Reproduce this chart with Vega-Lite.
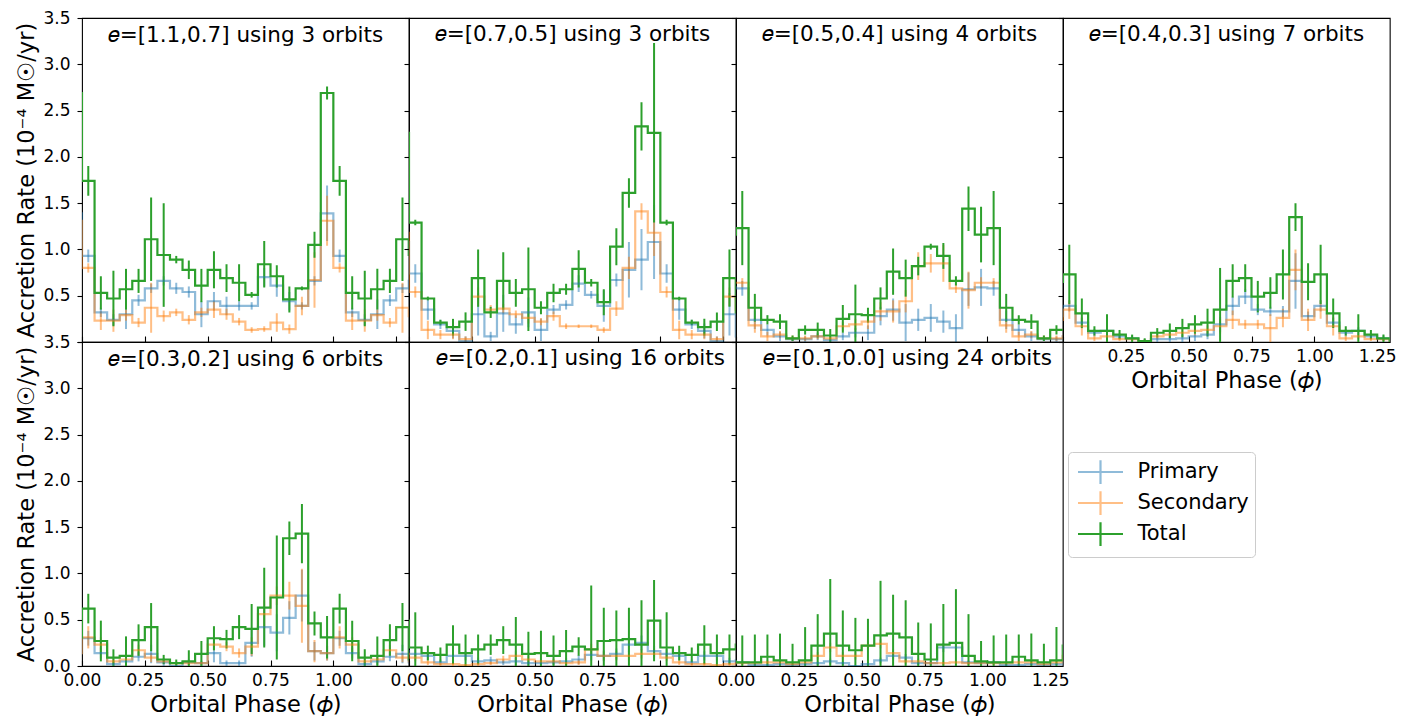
{
"$schema":"https://vega.github.io/schema/vega-lite/v6.json",
"background":"white",
"padding":{"left":15,"top":8,"right":5,"bottom":5},
"data":{"values":[
{"p":1,"s":"Primary","x":-0.025,"y":1.39,"e":0.3},{"p":1,"s":"Primary","x":0.025,"y":0.93,"e":0.07},{"p":1,"s":"Primary","x":0.075,"y":0.32,"e":0.05},{"p":1,"s":"Primary","x":0.125,"y":0.24,"e":0.06},{"p":1,"s":"Primary","x":0.175,"y":0.30,"e":0.16},{"p":1,"s":"Primary","x":0.225,"y":0.45,"e":0.06},{"p":1,"s":"Primary","x":0.275,"y":0.58,"e":0.05},{"p":1,"s":"Primary","x":0.325,"y":0.66,"e":0.05},{"p":1,"s":"Primary","x":0.375,"y":0.58,"e":0.06},{"p":1,"s":"Primary","x":0.425,"y":0.54,"e":0.06},{"p":1,"s":"Primary","x":0.475,"y":0.30,"e":0.14},{"p":1,"s":"Primary","x":0.525,"y":0.44,"e":0.1},{"p":1,"s":"Primary","x":0.575,"y":0.39,"e":0.1},{"p":1,"s":"Primary","x":0.625,"y":0.39,"e":0.05},{"p":1,"s":"Primary","x":0.675,"y":0.39,"e":0.04},{"p":1,"s":"Primary","x":0.725,"y":0.70,"e":0.1},{"p":1,"s":"Primary","x":0.775,"y":0.61,"e":0.12},{"p":1,"s":"Primary","x":0.825,"y":0.44,"e":0.1},{"p":1,"s":"Primary","x":0.875,"y":0.39,"e":0.04},{"p":1,"s":"Primary","x":0.925,"y":0.66,"e":0.05},{"p":1,"s":"Primary","x":0.975,"y":1.39,"e":0.3},{"p":1,"s":"Primary","x":1.025,"y":0.93,"e":0.07},{"p":1,"s":"Primary","x":1.075,"y":0.32,"e":0.05},{"p":1,"s":"Primary","x":1.125,"y":0.24,"e":0.06},{"p":1,"s":"Primary","x":1.175,"y":0.30,"e":0.16},{"p":1,"s":"Primary","x":1.225,"y":0.45,"e":0.06},{"p":1,"s":"Primary","x":1.275,"y":0.58,"e":0.05},{"p":1,"s":"Primary","x":1.325,"y":0.66,"e":0.05},
{"p":1,"s":"Secondary","x":-0.025,"y":1.31,"e":0.27},{"p":1,"s":"Secondary","x":0.025,"y":0.80,"e":0.05},{"p":1,"s":"Secondary","x":0.075,"y":0.23,"e":0.1},{"p":1,"s":"Secondary","x":0.125,"y":0.23,"e":0.12},{"p":1,"s":"Secondary","x":0.175,"y":0.29,"e":0.06},{"p":1,"s":"Secondary","x":0.225,"y":0.21,"e":0.05},{"p":1,"s":"Secondary","x":0.275,"y":0.37,"e":0.27},{"p":1,"s":"Secondary","x":0.325,"y":0.28,"e":0.06},{"p":1,"s":"Secondary","x":0.375,"y":0.32,"e":0.04},{"p":1,"s":"Secondary","x":0.425,"y":0.24,"e":0.05},{"p":1,"s":"Secondary","x":0.475,"y":0.32,"e":0.05},{"p":1,"s":"Secondary","x":0.525,"y":0.35,"e":0.09},{"p":1,"s":"Secondary","x":0.575,"y":0.30,"e":0.06},{"p":1,"s":"Secondary","x":0.625,"y":0.22,"e":0.04},{"p":1,"s":"Secondary","x":0.675,"y":0.13,"e":0.03},{"p":1,"s":"Secondary","x":0.725,"y":0.14,"e":0.03},{"p":1,"s":"Secondary","x":0.775,"y":0.21,"e":0.1},{"p":1,"s":"Secondary","x":0.825,"y":0.14,"e":0.05},{"p":1,"s":"Secondary","x":0.875,"y":0.39,"e":0.1},{"p":1,"s":"Secondary","x":0.925,"y":0.67,"e":0.3},{"p":1,"s":"Secondary","x":0.975,"y":1.31,"e":0.27},{"p":1,"s":"Secondary","x":1.025,"y":0.80,"e":0.05},{"p":1,"s":"Secondary","x":1.075,"y":0.23,"e":0.1},{"p":1,"s":"Secondary","x":1.125,"y":0.23,"e":0.12},{"p":1,"s":"Secondary","x":1.175,"y":0.29,"e":0.06},{"p":1,"s":"Secondary","x":1.225,"y":0.21,"e":0.05},{"p":1,"s":"Secondary","x":1.275,"y":0.37,"e":0.27},{"p":1,"s":"Secondary","x":1.325,"y":0.28,"e":0.06},
{"p":1,"s":"Total","x":-0.025,"y":2.69,"e":0.07},{"p":1,"s":"Total","x":0.025,"y":1.74,"e":0.16},{"p":1,"s":"Total","x":0.075,"y":0.53,"e":0.18},{"p":1,"s":"Total","x":0.125,"y":0.47,"e":0.3},{"p":1,"s":"Total","x":0.175,"y":0.57,"e":0.22},{"p":1,"s":"Total","x":0.225,"y":0.66,"e":0.13},{"p":1,"s":"Total","x":0.275,"y":1.11,"e":0.45},{"p":1,"s":"Total","x":0.325,"y":0.94,"e":0.56},{"p":1,"s":"Total","x":0.375,"y":0.89,"e":0.04},{"p":1,"s":"Total","x":0.425,"y":0.78,"e":0.1},{"p":1,"s":"Total","x":0.475,"y":0.61,"e":0.18},{"p":1,"s":"Total","x":0.525,"y":0.78,"e":0.2},{"p":1,"s":"Total","x":0.575,"y":0.69,"e":0.15},{"p":1,"s":"Total","x":0.625,"y":0.64,"e":0.2},{"p":1,"s":"Total","x":0.675,"y":0.51,"e":0.03},{"p":1,"s":"Total","x":0.725,"y":0.84,"e":0.25},{"p":1,"s":"Total","x":0.775,"y":0.71,"e":0.12},{"p":1,"s":"Total","x":0.825,"y":0.46,"e":0.14},{"p":1,"s":"Total","x":0.875,"y":0.58,"e":0.02},{"p":1,"s":"Total","x":0.925,"y":1.05,"e":0.14},{"p":1,"s":"Total","x":0.975,"y":2.69,"e":0.07},{"p":1,"s":"Total","x":1.025,"y":1.74,"e":0.16},{"p":1,"s":"Total","x":1.075,"y":0.53,"e":0.18},{"p":1,"s":"Total","x":1.125,"y":0.47,"e":0.3},{"p":1,"s":"Total","x":1.175,"y":0.57,"e":0.22},{"p":1,"s":"Total","x":1.225,"y":0.66,"e":0.13},{"p":1,"s":"Total","x":1.275,"y":1.11,"e":0.45},{"p":1,"s":"Total","x":1.325,"y":0.94,"e":0.56},
{"p":2,"s":"Primary","x":-0.025,"y":1.08,"e":0.4},{"p":2,"s":"Primary","x":0.025,"y":0.74,"e":0.1},{"p":2,"s":"Primary","x":0.075,"y":0.35,"e":0.11},{"p":2,"s":"Primary","x":0.125,"y":0.19,"e":0.05},{"p":2,"s":"Primary","x":0.175,"y":0.12,"e":0.08},{"p":2,"s":"Primary","x":0.225,"y":0.01,"e":0.05},{"p":2,"s":"Primary","x":0.275,"y":0.30,"e":0.23},{"p":2,"s":"Primary","x":0.325,"y":0.06,"e":0.05},{"p":2,"s":"Primary","x":0.375,"y":0.31,"e":0.2},{"p":2,"s":"Primary","x":0.425,"y":0.19,"e":0.1},{"p":2,"s":"Primary","x":0.475,"y":0.32,"e":0.16},{"p":2,"s":"Primary","x":0.525,"y":0.13,"e":0.12},{"p":2,"s":"Primary","x":0.575,"y":0.35,"e":0.05},{"p":2,"s":"Primary","x":0.625,"y":0.40,"e":0.05},{"p":2,"s":"Primary","x":0.675,"y":0.63,"e":0.09},{"p":2,"s":"Primary","x":0.725,"y":0.51,"e":0.04},{"p":2,"s":"Primary","x":0.775,"y":0.39,"e":0.17},{"p":2,"s":"Primary","x":0.825,"y":0.67,"e":0.07},{"p":2,"s":"Primary","x":0.875,"y":0.78,"e":0.3},{"p":2,"s":"Primary","x":0.925,"y":0.89,"e":0.33},{"p":2,"s":"Primary","x":0.975,"y":1.08,"e":0.4},{"p":2,"s":"Primary","x":1.025,"y":0.74,"e":0.1},{"p":2,"s":"Primary","x":1.075,"y":0.35,"e":0.11},{"p":2,"s":"Primary","x":1.125,"y":0.19,"e":0.05},{"p":2,"s":"Primary","x":1.175,"y":0.12,"e":0.08},{"p":2,"s":"Primary","x":1.225,"y":0.01,"e":0.05},{"p":2,"s":"Primary","x":1.275,"y":0.30,"e":0.23},{"p":2,"s":"Primary","x":1.325,"y":0.06,"e":0.05},
{"p":2,"s":"Secondary","x":-0.025,"y":1.18,"e":0.25},{"p":2,"s":"Secondary","x":0.025,"y":0.54,"e":0.06},{"p":2,"s":"Secondary","x":0.075,"y":0.13,"e":0.1},{"p":2,"s":"Secondary","x":0.125,"y":0.08,"e":0.05},{"p":2,"s":"Secondary","x":0.175,"y":0.08,"e":0.05},{"p":2,"s":"Secondary","x":0.225,"y":0.03,"e":0.03},{"p":2,"s":"Secondary","x":0.275,"y":0.49,"e":0.1},{"p":2,"s":"Secondary","x":0.325,"y":0.35,"e":0.05},{"p":2,"s":"Secondary","x":0.375,"y":0.36,"e":0.05},{"p":2,"s":"Secondary","x":0.425,"y":0.30,"e":0.04},{"p":2,"s":"Secondary","x":0.475,"y":0.26,"e":0.06},{"p":2,"s":"Secondary","x":0.525,"y":0.22,"e":0.04},{"p":2,"s":"Secondary","x":0.575,"y":0.28,"e":0.05},{"p":2,"s":"Secondary","x":0.625,"y":0.17,"e":0.03},{"p":2,"s":"Secondary","x":0.675,"y":0.17,"e":0.02},{"p":2,"s":"Secondary","x":0.725,"y":0.17,"e":0.02},{"p":2,"s":"Secondary","x":0.775,"y":0.13,"e":0.03},{"p":2,"s":"Secondary","x":0.825,"y":0.36,"e":0.08},{"p":2,"s":"Secondary","x":0.875,"y":0.80,"e":0.12},{"p":2,"s":"Secondary","x":0.925,"y":1.41,"e":0.09},{"p":2,"s":"Secondary","x":0.975,"y":1.18,"e":0.25},{"p":2,"s":"Secondary","x":1.025,"y":0.54,"e":0.06},{"p":2,"s":"Secondary","x":1.075,"y":0.13,"e":0.1},{"p":2,"s":"Secondary","x":1.125,"y":0.08,"e":0.05},{"p":2,"s":"Secondary","x":1.175,"y":0.08,"e":0.05},{"p":2,"s":"Secondary","x":1.225,"y":0.03,"e":0.03},{"p":2,"s":"Secondary","x":1.275,"y":0.49,"e":0.1},{"p":2,"s":"Secondary","x":1.325,"y":0.35,"e":0.05},
{"p":2,"s":"Total","x":-0.025,"y":2.26,"e":0.97},{"p":2,"s":"Total","x":0.025,"y":1.29,"e":0.03},{"p":2,"s":"Total","x":0.075,"y":0.47,"e":0.02},{"p":2,"s":"Total","x":0.125,"y":0.21,"e":0.03},{"p":2,"s":"Total","x":0.175,"y":0.16,"e":0.09},{"p":2,"s":"Total","x":0.225,"y":0.22,"e":0.1},{"p":2,"s":"Total","x":0.275,"y":0.69,"e":0.31},{"p":2,"s":"Total","x":0.325,"y":0.32,"e":0.06},{"p":2,"s":"Total","x":0.375,"y":0.66,"e":0.31},{"p":2,"s":"Total","x":0.425,"y":0.53,"e":0.15},{"p":2,"s":"Total","x":0.475,"y":0.57,"e":0.45},{"p":2,"s":"Total","x":0.525,"y":0.37,"e":0.07},{"p":2,"s":"Total","x":0.575,"y":0.53,"e":0.1},{"p":2,"s":"Total","x":0.625,"y":0.57,"e":0.06},{"p":2,"s":"Total","x":0.675,"y":0.79,"e":0.2},{"p":2,"s":"Total","x":0.725,"y":0.64,"e":0.04},{"p":2,"s":"Total","x":0.775,"y":0.43,"e":0.14},{"p":2,"s":"Total","x":0.825,"y":1.03,"e":0.2},{"p":2,"s":"Total","x":0.875,"y":1.61,"e":0.16},{"p":2,"s":"Total","x":0.925,"y":2.33,"e":0.26},{"p":2,"s":"Total","x":0.975,"y":2.26,"e":0.97},{"p":2,"s":"Total","x":1.025,"y":1.29,"e":0.03},{"p":2,"s":"Total","x":1.075,"y":0.47,"e":0.02},{"p":2,"s":"Total","x":1.125,"y":0.21,"e":0.03},{"p":2,"s":"Total","x":1.175,"y":0.16,"e":0.09},{"p":2,"s":"Total","x":1.225,"y":0.22,"e":0.1},{"p":2,"s":"Total","x":1.275,"y":0.69,"e":0.31},{"p":2,"s":"Total","x":1.325,"y":0.32,"e":0.06},
{"p":3,"s":"Primary","x":-0.025,"y":0.59,"e":0.2},{"p":3,"s":"Primary","x":0.025,"y":0.58,"e":0.08},{"p":3,"s":"Primary","x":0.075,"y":0.24,"e":0.1},{"p":3,"s":"Primary","x":0.125,"y":0.13,"e":0.06},{"p":3,"s":"Primary","x":0.175,"y":0.06,"e":0.05},{"p":3,"s":"Primary","x":0.225,"y":0.03,"e":0.02},{"p":3,"s":"Primary","x":0.275,"y":0.03,"e":0.03},{"p":3,"s":"Primary","x":0.325,"y":0.06,"e":0.04},{"p":3,"s":"Primary","x":0.375,"y":0.02,"e":0.03},{"p":3,"s":"Primary","x":0.425,"y":0.06,"e":0.04},{"p":3,"s":"Primary","x":0.475,"y":0.10,"e":0.05},{"p":3,"s":"Primary","x":0.525,"y":0.10,"e":0.08},{"p":3,"s":"Primary","x":0.575,"y":0.28,"e":0.1},{"p":3,"s":"Primary","x":0.625,"y":0.35,"e":0.12},{"p":3,"s":"Primary","x":0.675,"y":0.21,"e":0.2},{"p":3,"s":"Primary","x":0.725,"y":0.24,"e":0.12},{"p":3,"s":"Primary","x":0.775,"y":0.26,"e":0.15},{"p":3,"s":"Primary","x":0.825,"y":0.22,"e":0.12},{"p":3,"s":"Primary","x":0.875,"y":0.15,"e":0.15},{"p":3,"s":"Primary","x":0.925,"y":0.57,"e":0.18},{"p":3,"s":"Primary","x":0.975,"y":0.59,"e":0.2},{"p":3,"s":"Primary","x":1.025,"y":0.58,"e":0.08},{"p":3,"s":"Primary","x":1.075,"y":0.24,"e":0.1},{"p":3,"s":"Primary","x":1.125,"y":0.13,"e":0.06},{"p":3,"s":"Primary","x":1.175,"y":0.06,"e":0.05},{"p":3,"s":"Primary","x":1.225,"y":0.03,"e":0.02},{"p":3,"s":"Primary","x":1.275,"y":0.03,"e":0.03},{"p":3,"s":"Primary","x":1.325,"y":0.06,"e":0.04},
{"p":3,"s":"Secondary","x":-0.025,"y":0.64,"e":0.06},{"p":3,"s":"Secondary","x":0.025,"y":0.64,"e":0.05},{"p":3,"s":"Secondary","x":0.075,"y":0.18,"e":0.08},{"p":3,"s":"Secondary","x":0.125,"y":0.06,"e":0.05},{"p":3,"s":"Secondary","x":0.175,"y":0.08,"e":0.04},{"p":3,"s":"Secondary","x":0.225,"y":0.04,"e":0.03},{"p":3,"s":"Secondary","x":0.275,"y":0.04,"e":0.03},{"p":3,"s":"Secondary","x":0.325,"y":0.06,"e":0.03},{"p":3,"s":"Secondary","x":0.375,"y":0.04,"e":0.03},{"p":3,"s":"Secondary","x":0.425,"y":0.17,"e":0.05},{"p":3,"s":"Secondary","x":0.475,"y":0.19,"e":0.06},{"p":3,"s":"Secondary","x":0.525,"y":0.22,"e":0.08},{"p":3,"s":"Secondary","x":0.575,"y":0.33,"e":0.1},{"p":3,"s":"Secondary","x":0.625,"y":0.33,"e":0.12},{"p":3,"s":"Secondary","x":0.675,"y":0.44,"e":0.12},{"p":3,"s":"Secondary","x":0.725,"y":0.82,"e":0.15},{"p":3,"s":"Secondary","x":0.775,"y":0.85,"e":0.1},{"p":3,"s":"Secondary","x":0.825,"y":0.85,"e":0.2},{"p":3,"s":"Secondary","x":0.875,"y":0.58,"e":0.05},{"p":3,"s":"Secondary","x":0.925,"y":0.56,"e":0.2},{"p":3,"s":"Secondary","x":0.975,"y":0.64,"e":0.06},{"p":3,"s":"Secondary","x":1.025,"y":0.64,"e":0.05},{"p":3,"s":"Secondary","x":1.075,"y":0.18,"e":0.08},{"p":3,"s":"Secondary","x":1.125,"y":0.06,"e":0.05},{"p":3,"s":"Secondary","x":1.175,"y":0.08,"e":0.04},{"p":3,"s":"Secondary","x":1.225,"y":0.04,"e":0.03},{"p":3,"s":"Secondary","x":1.275,"y":0.04,"e":0.03},{"p":3,"s":"Secondary","x":1.325,"y":0.06,"e":0.03},
{"p":3,"s":"Total","x":-0.025,"y":1.16,"e":0.3},{"p":3,"s":"Total","x":0.025,"y":1.23,"e":0.4},{"p":3,"s":"Total","x":0.075,"y":0.37,"e":0.15},{"p":3,"s":"Total","x":0.125,"y":0.24,"e":0.05},{"p":3,"s":"Total","x":0.175,"y":0.22,"e":0.08},{"p":3,"s":"Total","x":0.225,"y":0.04,"e":0.03},{"p":3,"s":"Total","x":0.275,"y":0.13,"e":0.05},{"p":3,"s":"Total","x":0.325,"y":0.13,"e":0.08},{"p":3,"s":"Total","x":0.375,"y":0.07,"e":0.07},{"p":3,"s":"Total","x":0.425,"y":0.25,"e":0.15},{"p":3,"s":"Total","x":0.475,"y":0.30,"e":0.32},{"p":3,"s":"Total","x":0.525,"y":0.29,"e":0.08},{"p":3,"s":"Total","x":0.575,"y":0.47,"e":0.12},{"p":3,"s":"Total","x":0.625,"y":0.76,"e":0.25},{"p":3,"s":"Total","x":0.675,"y":0.69,"e":0.2},{"p":3,"s":"Total","x":0.725,"y":0.82,"e":0.1},{"p":3,"s":"Total","x":0.775,"y":1.03,"e":0.03},{"p":3,"s":"Total","x":0.825,"y":0.93,"e":0.14},{"p":3,"s":"Total","x":0.875,"y":0.66,"e":0.05},{"p":3,"s":"Total","x":0.925,"y":1.44,"e":0.24},{"p":3,"s":"Total","x":0.975,"y":1.16,"e":0.3},{"p":3,"s":"Total","x":1.025,"y":1.23,"e":0.4},{"p":3,"s":"Total","x":1.075,"y":0.37,"e":0.15},{"p":3,"s":"Total","x":1.125,"y":0.24,"e":0.05},{"p":3,"s":"Total","x":1.175,"y":0.22,"e":0.08},{"p":3,"s":"Total","x":1.225,"y":0.04,"e":0.03},{"p":3,"s":"Total","x":1.275,"y":0.13,"e":0.05},{"p":3,"s":"Total","x":1.325,"y":0.13,"e":0.08},
{"p":4,"s":"Primary","x":-0.025,"y":0.28,"e":0.05},{"p":4,"s":"Primary","x":0.025,"y":0.39,"e":0.06},{"p":4,"s":"Primary","x":0.075,"y":0.21,"e":0.05},{"p":4,"s":"Primary","x":0.125,"y":0.10,"e":0.04},{"p":4,"s":"Primary","x":0.175,"y":0.12,"e":0.04},{"p":4,"s":"Primary","x":0.225,"y":0.06,"e":0.03},{"p":4,"s":"Primary","x":0.275,"y":0.04,"e":0.03},{"p":4,"s":"Primary","x":0.325,"y":0.01,"e":0.02},{"p":4,"s":"Primary","x":0.375,"y":0.03,"e":0.03},{"p":4,"s":"Primary","x":0.425,"y":0.03,"e":0.03},{"p":4,"s":"Primary","x":0.475,"y":0.04,"e":0.04},{"p":4,"s":"Primary","x":0.525,"y":0.06,"e":0.05},{"p":4,"s":"Primary","x":0.575,"y":0.08,"e":0.05},{"p":4,"s":"Primary","x":0.625,"y":0.19,"e":0.08},{"p":4,"s":"Primary","x":0.675,"y":0.39,"e":0.1},{"p":4,"s":"Primary","x":0.725,"y":0.49,"e":0.08},{"p":4,"s":"Primary","x":0.775,"y":0.35,"e":0.06},{"p":4,"s":"Primary","x":0.825,"y":0.33,"e":0.05},{"p":4,"s":"Primary","x":0.875,"y":0.33,"e":0.06},{"p":4,"s":"Primary","x":0.925,"y":0.66,"e":0.3},{"p":4,"s":"Primary","x":0.975,"y":0.28,"e":0.05},{"p":4,"s":"Primary","x":1.025,"y":0.39,"e":0.06},{"p":4,"s":"Primary","x":1.075,"y":0.21,"e":0.05},{"p":4,"s":"Primary","x":1.125,"y":0.10,"e":0.04},{"p":4,"s":"Primary","x":1.175,"y":0.12,"e":0.04},{"p":4,"s":"Primary","x":1.225,"y":0.06,"e":0.03},{"p":4,"s":"Primary","x":1.275,"y":0.04,"e":0.03},{"p":4,"s":"Primary","x":1.325,"y":0.01,"e":0.02},
{"p":4,"s":"Secondary","x":-0.025,"y":0.24,"e":0.12},{"p":4,"s":"Secondary","x":0.025,"y":0.35,"e":0.1},{"p":4,"s":"Secondary","x":0.075,"y":0.17,"e":0.1},{"p":4,"s":"Secondary","x":0.125,"y":0.04,"e":0.03},{"p":4,"s":"Secondary","x":0.175,"y":0.06,"e":0.03},{"p":4,"s":"Secondary","x":0.225,"y":0.03,"e":0.02},{"p":4,"s":"Secondary","x":0.275,"y":0.03,"e":0.02},{"p":4,"s":"Secondary","x":0.325,"y":0.01,"e":0.02},{"p":4,"s":"Secondary","x":0.375,"y":0.06,"e":0.03},{"p":4,"s":"Secondary","x":0.425,"y":0.08,"e":0.03},{"p":4,"s":"Secondary","x":0.475,"y":0.10,"e":0.04},{"p":4,"s":"Secondary","x":0.525,"y":0.12,"e":0.05},{"p":4,"s":"Secondary","x":0.575,"y":0.13,"e":0.05},{"p":4,"s":"Secondary","x":0.625,"y":0.17,"e":0.08},{"p":4,"s":"Secondary","x":0.675,"y":0.24,"e":0.1},{"p":4,"s":"Secondary","x":0.725,"y":0.19,"e":0.05},{"p":4,"s":"Secondary","x":0.775,"y":0.19,"e":0.05},{"p":4,"s":"Secondary","x":0.825,"y":0.15,"e":0.15},{"p":4,"s":"Secondary","x":0.875,"y":0.26,"e":0.1},{"p":4,"s":"Secondary","x":0.925,"y":0.78,"e":0.22},{"p":4,"s":"Secondary","x":0.975,"y":0.24,"e":0.12},{"p":4,"s":"Secondary","x":1.025,"y":0.35,"e":0.1},{"p":4,"s":"Secondary","x":1.075,"y":0.17,"e":0.1},{"p":4,"s":"Secondary","x":1.125,"y":0.04,"e":0.03},{"p":4,"s":"Secondary","x":1.175,"y":0.06,"e":0.03},{"p":4,"s":"Secondary","x":1.225,"y":0.03,"e":0.02},{"p":4,"s":"Secondary","x":1.275,"y":0.03,"e":0.02},{"p":4,"s":"Secondary","x":1.325,"y":0.01,"e":0.02},
{"p":4,"s":"Total","x":-0.025,"y":0.65,"e":0.2},{"p":4,"s":"Total","x":0.025,"y":0.73,"e":0.32},{"p":4,"s":"Total","x":0.075,"y":0.31,"e":0.16},{"p":4,"s":"Total","x":0.125,"y":0.12,"e":0.05},{"p":4,"s":"Total","x":0.175,"y":0.12,"e":0.18},{"p":4,"s":"Total","x":0.225,"y":0.08,"e":0.05},{"p":4,"s":"Total","x":0.275,"y":0.04,"e":0.04},{"p":4,"s":"Total","x":0.325,"y":0.01,"e":0.03},{"p":4,"s":"Total","x":0.375,"y":0.10,"e":0.05},{"p":4,"s":"Total","x":0.425,"y":0.12,"e":0.08},{"p":4,"s":"Total","x":0.475,"y":0.15,"e":0.1},{"p":4,"s":"Total","x":0.525,"y":0.19,"e":0.1},{"p":4,"s":"Total","x":0.575,"y":0.21,"e":0.15},{"p":4,"s":"Total","x":0.625,"y":0.35,"e":0.45},{"p":4,"s":"Total","x":0.675,"y":0.66,"e":0.18},{"p":4,"s":"Total","x":0.725,"y":0.69,"e":0.15},{"p":4,"s":"Total","x":0.775,"y":0.49,"e":0.17},{"p":4,"s":"Total","x":0.825,"y":0.53,"e":0.17},{"p":4,"s":"Total","x":0.875,"y":0.73,"e":0.27},{"p":4,"s":"Total","x":0.925,"y":1.35,"e":0.15},{"p":4,"s":"Total","x":0.975,"y":0.65,"e":0.2},{"p":4,"s":"Total","x":1.025,"y":0.73,"e":0.32},{"p":4,"s":"Total","x":1.075,"y":0.31,"e":0.16},{"p":4,"s":"Total","x":1.125,"y":0.12,"e":0.05},{"p":4,"s":"Total","x":1.175,"y":0.12,"e":0.18},{"p":4,"s":"Total","x":1.225,"y":0.08,"e":0.05},{"p":4,"s":"Total","x":1.275,"y":0.04,"e":0.04},{"p":4,"s":"Total","x":1.325,"y":0.01,"e":0.03},
{"p":5,"s":"Primary","x":-0.025,"y":0.14,"e":0.08},{"p":5,"s":"Primary","x":0.025,"y":0.30,"e":0.08},{"p":5,"s":"Primary","x":0.075,"y":0.14,"e":0.06},{"p":5,"s":"Primary","x":0.125,"y":0.02,"e":0.03},{"p":5,"s":"Primary","x":0.175,"y":0.05,"e":0.04},{"p":5,"s":"Primary","x":0.225,"y":0.10,"e":0.05},{"p":5,"s":"Primary","x":0.275,"y":0.13,"e":0.1},{"p":5,"s":"Primary","x":0.325,"y":0.04,"e":0.04},{"p":5,"s":"Primary","x":0.375,"y":0.0,"e":0.02},{"p":5,"s":"Primary","x":0.425,"y":0.04,"e":0.03},{"p":5,"s":"Primary","x":0.475,"y":0.03,"e":0.03},{"p":5,"s":"Primary","x":0.525,"y":0.14,"e":0.1},{"p":5,"s":"Primary","x":0.575,"y":0.03,"e":0.03},{"p":5,"s":"Primary","x":0.625,"y":0.03,"e":0.03},{"p":5,"s":"Primary","x":0.675,"y":0.25,"e":0.15},{"p":5,"s":"Primary","x":0.725,"y":0.42,"e":0.2},{"p":5,"s":"Primary","x":0.775,"y":0.36,"e":0.2},{"p":5,"s":"Primary","x":0.825,"y":0.52,"e":0.18},{"p":5,"s":"Primary","x":0.875,"y":0.76,"e":0.28},{"p":5,"s":"Primary","x":0.925,"y":0.16,"e":0.1},{"p":5,"s":"Primary","x":0.975,"y":0.14,"e":0.08},{"p":5,"s":"Primary","x":1.025,"y":0.30,"e":0.08},{"p":5,"s":"Primary","x":1.075,"y":0.14,"e":0.06},{"p":5,"s":"Primary","x":1.125,"y":0.02,"e":0.03},{"p":5,"s":"Primary","x":1.175,"y":0.05,"e":0.04},{"p":5,"s":"Primary","x":1.225,"y":0.10,"e":0.05},{"p":5,"s":"Primary","x":1.275,"y":0.13,"e":0.1},{"p":5,"s":"Primary","x":1.325,"y":0.04,"e":0.04},
{"p":5,"s":"Secondary","x":-0.025,"y":0.14,"e":0.08},{"p":5,"s":"Secondary","x":0.025,"y":0.31,"e":0.12},{"p":5,"s":"Secondary","x":0.075,"y":0.23,"e":0.08},{"p":5,"s":"Secondary","x":0.125,"y":0.05,"e":0.03},{"p":5,"s":"Secondary","x":0.175,"y":0.07,"e":0.04},{"p":5,"s":"Secondary","x":0.225,"y":0.17,"e":0.06},{"p":5,"s":"Secondary","x":0.275,"y":0.09,"e":0.05},{"p":5,"s":"Secondary","x":0.325,"y":0.05,"e":0.03},{"p":5,"s":"Secondary","x":0.375,"y":0.03,"e":0.02},{"p":5,"s":"Secondary","x":0.425,"y":0.03,"e":0.02},{"p":5,"s":"Secondary","x":0.475,"y":0.03,"e":0.02},{"p":5,"s":"Secondary","x":0.525,"y":0.23,"e":0.06},{"p":5,"s":"Secondary","x":0.575,"y":0.21,"e":0.05},{"p":5,"s":"Secondary","x":0.625,"y":0.14,"e":0.05},{"p":5,"s":"Secondary","x":0.675,"y":0.21,"e":0.1},{"p":5,"s":"Secondary","x":0.725,"y":0.56,"e":0.15},{"p":5,"s":"Secondary","x":0.775,"y":0.76,"e":0.1},{"p":5,"s":"Secondary","x":0.825,"y":0.76,"e":0.15},{"p":5,"s":"Secondary","x":0.875,"y":0.65,"e":0.4},{"p":5,"s":"Secondary","x":0.925,"y":0.16,"e":0.12},{"p":5,"s":"Secondary","x":0.975,"y":0.14,"e":0.08},{"p":5,"s":"Secondary","x":1.025,"y":0.31,"e":0.12},{"p":5,"s":"Secondary","x":1.075,"y":0.23,"e":0.08},{"p":5,"s":"Secondary","x":1.125,"y":0.05,"e":0.03},{"p":5,"s":"Secondary","x":1.175,"y":0.07,"e":0.04},{"p":5,"s":"Secondary","x":1.225,"y":0.17,"e":0.06},{"p":5,"s":"Secondary","x":1.275,"y":0.09,"e":0.05},{"p":5,"s":"Secondary","x":1.325,"y":0.05,"e":0.03},
{"p":5,"s":"Total","x":-0.025,"y":0.31,"e":0.23},{"p":5,"s":"Total","x":0.025,"y":0.62,"e":0.16},{"p":5,"s":"Total","x":0.075,"y":0.27,"e":0.22},{"p":5,"s":"Total","x":0.125,"y":0.09,"e":0.09},{"p":5,"s":"Total","x":0.175,"y":0.11,"e":0.21},{"p":5,"s":"Total","x":0.225,"y":0.28,"e":0.17},{"p":5,"s":"Total","x":0.275,"y":0.42,"e":0.26},{"p":5,"s":"Total","x":0.325,"y":0.07,"e":0.05},{"p":5,"s":"Total","x":0.375,"y":0.03,"e":0.04},{"p":5,"s":"Total","x":0.425,"y":0.05,"e":0.12},{"p":5,"s":"Total","x":0.475,"y":0.13,"e":0.14},{"p":5,"s":"Total","x":0.525,"y":0.30,"e":0.13},{"p":5,"s":"Total","x":0.575,"y":0.29,"e":0.1},{"p":5,"s":"Total","x":0.625,"y":0.42,"e":0.13},{"p":5,"s":"Total","x":0.675,"y":0.40,"e":0.27},{"p":5,"s":"Total","x":0.725,"y":0.63,"e":0.43},{"p":5,"s":"Total","x":0.775,"y":0.74,"e":0.67},{"p":5,"s":"Total","x":0.825,"y":1.38,"e":0.18},{"p":5,"s":"Total","x":0.875,"y":1.43,"e":0.32},{"p":5,"s":"Total","x":0.925,"y":0.46,"e":0.13},{"p":5,"s":"Total","x":0.975,"y":0.31,"e":0.23},{"p":5,"s":"Total","x":1.025,"y":0.62,"e":0.16},{"p":5,"s":"Total","x":1.075,"y":0.27,"e":0.22},{"p":5,"s":"Total","x":1.125,"y":0.09,"e":0.09},{"p":5,"s":"Total","x":1.175,"y":0.11,"e":0.21},{"p":5,"s":"Total","x":1.225,"y":0.28,"e":0.17},{"p":5,"s":"Total","x":1.275,"y":0.42,"e":0.26},{"p":5,"s":"Total","x":1.325,"y":0.07,"e":0.05},
{"p":6,"s":"Primary","x":-0.025,"y":0.16,"e":0.06},{"p":6,"s":"Primary","x":0.025,"y":0.13,"e":0.05},{"p":6,"s":"Primary","x":0.075,"y":0.11,"e":0.04},{"p":6,"s":"Primary","x":0.125,"y":0.04,"e":0.03},{"p":6,"s":"Primary","x":0.175,"y":0.11,"e":0.05},{"p":6,"s":"Primary","x":0.225,"y":0.11,"e":0.05},{"p":6,"s":"Primary","x":0.275,"y":0.05,"e":0.04},{"p":6,"s":"Primary","x":0.325,"y":0.06,"e":0.04},{"p":6,"s":"Primary","x":0.375,"y":0.04,"e":0.03},{"p":6,"s":"Primary","x":0.425,"y":0.05,"e":0.04},{"p":6,"s":"Primary","x":0.475,"y":0.03,"e":0.03},{"p":6,"s":"Primary","x":0.525,"y":0.03,"e":0.03},{"p":6,"s":"Primary","x":0.575,"y":0.04,"e":0.03},{"p":6,"s":"Primary","x":0.625,"y":0.05,"e":0.04},{"p":6,"s":"Primary","x":0.675,"y":0.07,"e":0.05},{"p":6,"s":"Primary","x":0.725,"y":0.12,"e":0.06},{"p":6,"s":"Primary","x":0.775,"y":0.11,"e":0.06},{"p":6,"s":"Primary","x":0.825,"y":0.13,"e":0.06},{"p":6,"s":"Primary","x":0.875,"y":0.23,"e":0.08},{"p":6,"s":"Primary","x":0.925,"y":0.25,"e":0.08},{"p":6,"s":"Primary","x":0.975,"y":0.16,"e":0.06},{"p":6,"s":"Primary","x":1.025,"y":0.13,"e":0.05},{"p":6,"s":"Primary","x":1.075,"y":0.11,"e":0.04},{"p":6,"s":"Primary","x":1.125,"y":0.04,"e":0.03},{"p":6,"s":"Primary","x":1.175,"y":0.11,"e":0.05},{"p":6,"s":"Primary","x":1.225,"y":0.11,"e":0.05},{"p":6,"s":"Primary","x":1.275,"y":0.05,"e":0.04},{"p":6,"s":"Primary","x":1.325,"y":0.06,"e":0.04},
{"p":6,"s":"Secondary","x":-0.025,"y":0.13,"e":0.05},{"p":6,"s":"Secondary","x":0.025,"y":0.09,"e":0.04},{"p":6,"s":"Secondary","x":0.075,"y":0.04,"e":0.03},{"p":6,"s":"Secondary","x":0.125,"y":0.02,"e":0.02},{"p":6,"s":"Secondary","x":0.175,"y":0.02,"e":0.02},{"p":6,"s":"Secondary","x":0.225,"y":0.01,"e":0.01},{"p":6,"s":"Secondary","x":0.275,"y":0.02,"e":0.02},{"p":6,"s":"Secondary","x":0.325,"y":0.03,"e":0.02},{"p":6,"s":"Secondary","x":0.375,"y":0.07,"e":0.04},{"p":6,"s":"Secondary","x":0.425,"y":0.11,"e":0.05},{"p":6,"s":"Secondary","x":0.475,"y":0.07,"e":0.04},{"p":6,"s":"Secondary","x":0.525,"y":0.05,"e":0.03},{"p":6,"s":"Secondary","x":0.575,"y":0.05,"e":0.03},{"p":6,"s":"Secondary","x":0.625,"y":0.03,"e":0.02},{"p":6,"s":"Secondary","x":0.675,"y":0.04,"e":0.03},{"p":6,"s":"Secondary","x":0.725,"y":0.18,"e":0.06},{"p":6,"s":"Secondary","x":0.775,"y":0.11,"e":0.05},{"p":6,"s":"Secondary","x":0.825,"y":0.11,"e":0.05},{"p":6,"s":"Secondary","x":0.875,"y":0.11,"e":0.05},{"p":6,"s":"Secondary","x":0.925,"y":0.13,"e":0.05},{"p":6,"s":"Secondary","x":0.975,"y":0.13,"e":0.05},{"p":6,"s":"Secondary","x":1.025,"y":0.09,"e":0.04},{"p":6,"s":"Secondary","x":1.075,"y":0.04,"e":0.03},{"p":6,"s":"Secondary","x":1.125,"y":0.02,"e":0.02},{"p":6,"s":"Secondary","x":1.175,"y":0.02,"e":0.02},{"p":6,"s":"Secondary","x":1.225,"y":0.01,"e":0.01},{"p":6,"s":"Secondary","x":1.275,"y":0.02,"e":0.02},{"p":6,"s":"Secondary","x":1.325,"y":0.03,"e":0.02},
{"p":6,"s":"Total","x":-0.025,"y":0.49,"e":0.44},{"p":6,"s":"Total","x":0.025,"y":0.20,"e":0.38},{"p":6,"s":"Total","x":0.075,"y":0.14,"e":0.08},{"p":6,"s":"Total","x":0.125,"y":0.12,"e":0.08},{"p":6,"s":"Total","x":0.175,"y":0.23,"e":0.21},{"p":6,"s":"Total","x":0.225,"y":0.14,"e":0.2},{"p":6,"s":"Total","x":0.275,"y":0.18,"e":0.16},{"p":6,"s":"Total","x":0.325,"y":0.23,"e":0.11},{"p":6,"s":"Total","x":0.375,"y":0.28,"e":0.15},{"p":6,"s":"Total","x":0.425,"y":0.23,"e":0.3},{"p":6,"s":"Total","x":0.475,"y":0.13,"e":0.24},{"p":6,"s":"Total","x":0.525,"y":0.14,"e":0.24},{"p":6,"s":"Total","x":0.575,"y":0.11,"e":0.22},{"p":6,"s":"Total","x":0.625,"y":0.16,"e":0.23},{"p":6,"s":"Total","x":0.675,"y":0.21,"e":0.1},{"p":6,"s":"Total","x":0.725,"y":0.18,"e":0.69},{"p":6,"s":"Total","x":0.775,"y":0.27,"e":0.36},{"p":6,"s":"Total","x":0.825,"y":0.28,"e":0.32},{"p":6,"s":"Total","x":0.875,"y":0.29,"e":0.34},{"p":6,"s":"Total","x":0.925,"y":0.23,"e":0.48},{"p":6,"s":"Total","x":0.975,"y":0.49,"e":0.44},{"p":6,"s":"Total","x":1.025,"y":0.20,"e":0.38},{"p":6,"s":"Total","x":1.075,"y":0.14,"e":0.08},{"p":6,"s":"Total","x":1.125,"y":0.12,"e":0.08},{"p":6,"s":"Total","x":1.175,"y":0.23,"e":0.21},{"p":6,"s":"Total","x":1.225,"y":0.14,"e":0.2},{"p":6,"s":"Total","x":1.275,"y":0.18,"e":0.16},{"p":6,"s":"Total","x":1.325,"y":0.23,"e":0.11},
{"p":7,"s":"Primary","x":-0.025,"y":0.03,"e":0.02},{"p":7,"s":"Primary","x":0.025,"y":0.04,"e":0.02},{"p":7,"s":"Primary","x":0.075,"y":0.01,"e":0.01},{"p":7,"s":"Primary","x":0.125,"y":0.01,"e":0.01},{"p":7,"s":"Primary","x":0.175,"y":0.02,"e":0.01},{"p":7,"s":"Primary","x":0.225,"y":0.01,"e":0.01},{"p":7,"s":"Primary","x":0.275,"y":0.02,"e":0.01},{"p":7,"s":"Primary","x":0.325,"y":0.03,"e":0.02},{"p":7,"s":"Primary","x":0.375,"y":0.05,"e":0.03},{"p":7,"s":"Primary","x":0.425,"y":0.03,"e":0.02},{"p":7,"s":"Primary","x":0.475,"y":0.0,"e":0.01},{"p":7,"s":"Primary","x":0.525,"y":0.02,"e":0.02},{"p":7,"s":"Primary","x":0.575,"y":0.06,"e":0.03},{"p":7,"s":"Primary","x":0.625,"y":0.11,"e":0.04},{"p":7,"s":"Primary","x":0.675,"y":0.09,"e":0.04},{"p":7,"s":"Primary","x":0.725,"y":0.03,"e":0.02},{"p":7,"s":"Primary","x":0.775,"y":0.03,"e":0.02},{"p":7,"s":"Primary","x":0.825,"y":0.20,"e":0.05},{"p":7,"s":"Primary","x":0.875,"y":0.20,"e":0.05},{"p":7,"s":"Primary","x":0.925,"y":0.04,"e":0.02},{"p":7,"s":"Primary","x":0.975,"y":0.03,"e":0.02},{"p":7,"s":"Primary","x":1.025,"y":0.04,"e":0.02},{"p":7,"s":"Primary","x":1.075,"y":0.01,"e":0.01},{"p":7,"s":"Primary","x":1.125,"y":0.01,"e":0.01},{"p":7,"s":"Primary","x":1.175,"y":0.02,"e":0.01},{"p":7,"s":"Primary","x":1.225,"y":0.01,"e":0.01},{"p":7,"s":"Primary","x":1.275,"y":0.02,"e":0.01},{"p":7,"s":"Primary","x":1.325,"y":0.03,"e":0.02},
{"p":7,"s":"Secondary","x":-0.025,"y":0.03,"e":0.02},{"p":7,"s":"Secondary","x":0.025,"y":0.03,"e":0.02},{"p":7,"s":"Secondary","x":0.075,"y":0.03,"e":0.02},{"p":7,"s":"Secondary","x":0.125,"y":0.04,"e":0.02},{"p":7,"s":"Secondary","x":0.175,"y":0.04,"e":0.02},{"p":7,"s":"Secondary","x":0.225,"y":0.02,"e":0.01},{"p":7,"s":"Secondary","x":0.275,"y":0.04,"e":0.02},{"p":7,"s":"Secondary","x":0.325,"y":0.11,"e":0.04},{"p":7,"s":"Secondary","x":0.375,"y":0.20,"e":0.05},{"p":7,"s":"Secondary","x":0.425,"y":0.11,"e":0.04},{"p":7,"s":"Secondary","x":0.475,"y":0.11,"e":0.04},{"p":7,"s":"Secondary","x":0.525,"y":0.22,"e":0.05},{"p":7,"s":"Secondary","x":0.575,"y":0.24,"e":0.05},{"p":7,"s":"Secondary","x":0.625,"y":0.14,"e":0.04},{"p":7,"s":"Secondary","x":0.675,"y":0.05,"e":0.03},{"p":7,"s":"Secondary","x":0.725,"y":0.05,"e":0.03},{"p":7,"s":"Secondary","x":0.775,"y":0.03,"e":0.02},{"p":7,"s":"Secondary","x":0.825,"y":0.03,"e":0.02},{"p":7,"s":"Secondary","x":0.875,"y":0.04,"e":0.02},{"p":7,"s":"Secondary","x":0.925,"y":0.03,"e":0.02},{"p":7,"s":"Secondary","x":0.975,"y":0.03,"e":0.02},{"p":7,"s":"Secondary","x":1.025,"y":0.03,"e":0.02},{"p":7,"s":"Secondary","x":1.075,"y":0.03,"e":0.02},{"p":7,"s":"Secondary","x":1.125,"y":0.04,"e":0.02},{"p":7,"s":"Secondary","x":1.175,"y":0.04,"e":0.02},{"p":7,"s":"Secondary","x":1.225,"y":0.02,"e":0.01},{"p":7,"s":"Secondary","x":1.275,"y":0.04,"e":0.02},{"p":7,"s":"Secondary","x":1.325,"y":0.11,"e":0.04},
{"p":7,"s":"Total","x":-0.025,"y":0.05,"e":0.22},{"p":7,"s":"Total","x":0.025,"y":0.04,"e":0.29},{"p":7,"s":"Total","x":0.075,"y":0.04,"e":0.30},{"p":7,"s":"Total","x":0.125,"y":0.10,"e":0.24},{"p":7,"s":"Total","x":0.175,"y":0.06,"e":0.29},{"p":7,"s":"Total","x":0.225,"y":0.04,"e":0.20},{"p":7,"s":"Total","x":0.275,"y":0.06,"e":0.36},{"p":7,"s":"Total","x":0.325,"y":0.22,"e":0.34},{"p":7,"s":"Total","x":0.375,"y":0.35,"e":0.59},{"p":7,"s":"Total","x":0.425,"y":0.22,"e":0.38},{"p":7,"s":"Total","x":0.475,"y":0.17,"e":0.35},{"p":7,"s":"Total","x":0.525,"y":0.22,"e":0.29},{"p":7,"s":"Total","x":0.575,"y":0.33,"e":0.59},{"p":7,"s":"Total","x":0.625,"y":0.35,"e":0.42},{"p":7,"s":"Total","x":0.675,"y":0.31,"e":0.40},{"p":7,"s":"Total","x":0.725,"y":0.13,"e":0.34},{"p":7,"s":"Total","x":0.775,"y":0.07,"e":0.39},{"p":7,"s":"Total","x":0.825,"y":0.23,"e":0.44},{"p":7,"s":"Total","x":0.875,"y":0.25,"e":0.58},{"p":7,"s":"Total","x":0.925,"y":0.11,"e":0.45},{"p":7,"s":"Total","x":0.975,"y":0.05,"e":0.22},{"p":7,"s":"Total","x":1.025,"y":0.04,"e":0.29},{"p":7,"s":"Total","x":1.075,"y":0.04,"e":0.30},{"p":7,"s":"Total","x":1.125,"y":0.10,"e":0.24},{"p":7,"s":"Total","x":1.175,"y":0.06,"e":0.29},{"p":7,"s":"Total","x":1.225,"y":0.04,"e":0.20},{"p":7,"s":"Total","x":1.275,"y":0.06,"e":0.36},{"p":7,"s":"Total","x":1.325,"y":0.22,"e":0.34}
]},
"columns":4,
"concat":[
{"width":326.75,"height":324,"title":{"text":"𝑒=[1.1,0.7] using 3 orbits","offset":-37},"transform":[{"filter":"datum.p==1"}],
 "encoding":{"x":{"field":"x","type":"quantitative","scale":{"domain":[0,1.3],"nice":false,"zero":false},"axis":{"values":[0,0.25,0.5,0.75,1,1.25],"labels":false,"title":null}},
  "y":{"field":"y","type":"quantitative","scale":{"domain":[0,3.5],"nice":false},"axis":{"values":[0,0.5,1,1.5,2,2.5,3,3.5],"title":"Accretion Rate (10⁻⁴ M☉/yr)","labelExpr":"datum.value==0?'':format(datum.value,'.1f')"}},
  "color":{"field":"s","type":"nominal","scale":{"domain":["Primary","Secondary","Total"],"range":["rgba(31,119,180,0.5)","rgba(255,127,14,0.5)","#2ca02c"]},"legend":{"title":null,"orient":"none","legendX":986,"legendY":434,"symbolType":"M-1.8,0L1.8,0M0,-0.95L0,0.95","symbolSize":625,"symbolStrokeWidth":2.2,"symbolOffset":12.5}}},
 "layer":[{"mark":{"type":"errorbar","ticks":false,"clip":true,"thickness":2},"encoding":{"yError":{"field":"e"}}},{"mark":{"type":"line","interpolate":"step","clip":true,"strokeWidth":2.2}}]},
{"width":326.75,"height":324,"title":{"text":"𝑒=[0.7,0.5] using 3 orbits"},"transform":[{"filter":"datum.p==2"}],
 "encoding":{"x":{"field":"x","type":"quantitative","scale":{"domain":[0,1.3],"nice":false,"zero":false},"axis":{"values":[0,0.25,0.5,0.75,1,1.25],"labels":false,"title":null}},
  "y":{"field":"y","type":"quantitative","scale":{"domain":[0,3.5],"nice":false},"axis":{"values":[0,0.5,1,1.5,2,2.5,3,3.5],"labels":false,"title":null}},
  "color":{"field":"s","type":"nominal","scale":{"domain":["Primary","Secondary","Total"],"range":["rgba(31,119,180,0.5)","rgba(255,127,14,0.5)","#2ca02c"]},"legend":{"title":null,"orient":"none","legendX":986,"legendY":434,"symbolType":"M-1.8,0L1.8,0M0,-0.95L0,0.95","symbolSize":625,"symbolStrokeWidth":2.2,"symbolOffset":12.5}}},
 "layer":[{"mark":{"type":"errorbar","ticks":false,"clip":true,"thickness":2},"encoding":{"yError":{"field":"e"}}},{"mark":{"type":"line","interpolate":"step","clip":true,"strokeWidth":2.2}}]},
{"width":326.75,"height":324,"title":{"text":"𝑒=[0.5,0.4] using 4 orbits"},"transform":[{"filter":"datum.p==3"}],
 "encoding":{"x":{"field":"x","type":"quantitative","scale":{"domain":[0,1.3],"nice":false,"zero":false},"axis":{"values":[0,0.25,0.5,0.75,1,1.25],"labels":false,"title":null}},
  "y":{"field":"y","type":"quantitative","scale":{"domain":[0,3.5],"nice":false},"axis":{"values":[0,0.5,1,1.5,2,2.5,3,3.5],"labels":false,"title":null}},
  "color":{"field":"s","type":"nominal","scale":{"domain":["Primary","Secondary","Total"],"range":["rgba(31,119,180,0.5)","rgba(255,127,14,0.5)","#2ca02c"]},"legend":{"title":null,"orient":"none","legendX":986,"legendY":434,"symbolType":"M-1.8,0L1.8,0M0,-0.95L0,0.95","symbolSize":625,"symbolStrokeWidth":2.2,"symbolOffset":12.5}}},
 "layer":[{"mark":{"type":"errorbar","ticks":false,"clip":true,"thickness":2},"encoding":{"yError":{"field":"e"}}},{"mark":{"type":"line","interpolate":"step","clip":true,"strokeWidth":2.2}}]},
{"width":326.75,"height":324,"title":{"text":"𝑒=[0.4,0.3] using 7 orbits"},"transform":[{"filter":"datum.p==4"}],
 "encoding":{"x":{"field":"x","type":"quantitative","scale":{"domain":[0,1.3],"nice":false,"zero":false},"axis":{"values":[0,0.25,0.5,0.75,1,1.25],"title":"Orbital Phase (𝜙)","labelExpr":"datum.value==0?'':format(datum.value,'.2f')"}},
  "y":{"field":"y","type":"quantitative","scale":{"domain":[0,3.5],"nice":false},"axis":{"values":[0,0.5,1,1.5,2,2.5,3,3.5],"labels":false,"title":null}},
  "color":{"field":"s","type":"nominal","scale":{"domain":["Primary","Secondary","Total"],"range":["rgba(31,119,180,0.5)","rgba(255,127,14,0.5)","#2ca02c"]},"legend":{"title":null,"orient":"none","legendX":986,"legendY":434,"symbolType":"M-1.8,0L1.8,0M0,-0.95L0,0.95","symbolSize":625,"symbolStrokeWidth":2.2,"symbolOffset":12.5}}},
 "layer":[{"mark":{"type":"errorbar","ticks":false,"clip":true,"thickness":2},"encoding":{"yError":{"field":"e"}}},{"mark":{"type":"line","interpolate":"step","clip":true,"strokeWidth":2.2}}]},
{"width":326.75,"height":324,"title":{"text":"𝑒=[0.3,0.2] using 6 orbits","offset":-37},"transform":[{"filter":"datum.p==5"}],
 "encoding":{"x":{"field":"x","type":"quantitative","scale":{"domain":[0,1.3],"nice":false,"zero":false},"axis":{"values":[0,0.25,0.5,0.75,1,1.25],"title":"Orbital Phase (𝜙)","labelExpr":"datum.value==1.25?'':format(datum.value,'.2f')"}},
  "y":{"field":"y","type":"quantitative","scale":{"domain":[0,3.5],"nice":false},"axis":{"values":[0,0.5,1,1.5,2,2.5,3,3.5],"title":"Accretion Rate (10⁻⁴ M☉/yr)","format":".1f"}},
  "color":{"field":"s","type":"nominal","scale":{"domain":["Primary","Secondary","Total"],"range":["rgba(31,119,180,0.5)","rgba(255,127,14,0.5)","#2ca02c"]},"legend":{"title":null,"orient":"none","legendX":986,"legendY":434,"symbolType":"M-1.8,0L1.8,0M0,-0.95L0,0.95","symbolSize":625,"symbolStrokeWidth":2.2,"symbolOffset":12.5}}},
 "layer":[{"mark":{"type":"errorbar","ticks":false,"clip":true,"thickness":2},"encoding":{"yError":{"field":"e"}}},{"mark":{"type":"line","interpolate":"step","clip":true,"strokeWidth":2.2}}]},
{"width":326.75,"height":324,"title":{"text":"𝑒=[0.2,0.1] using 16 orbits","dx":8},"transform":[{"filter":"datum.p==6"}],
 "encoding":{"x":{"field":"x","type":"quantitative","scale":{"domain":[0,1.3],"nice":false,"zero":false},"axis":{"values":[0,0.25,0.5,0.75,1,1.25],"title":"Orbital Phase (𝜙)","labelExpr":"datum.value==1.25?'':format(datum.value,'.2f')"}},
  "y":{"field":"y","type":"quantitative","scale":{"domain":[0,3.5],"nice":false},"axis":{"values":[0,0.5,1,1.5,2,2.5,3,3.5],"labels":false,"title":null}},
  "color":{"field":"s","type":"nominal","scale":{"domain":["Primary","Secondary","Total"],"range":["rgba(31,119,180,0.5)","rgba(255,127,14,0.5)","#2ca02c"]},"legend":{"title":null,"orient":"none","legendX":986,"legendY":434,"symbolType":"M-1.8,0L1.8,0M0,-0.95L0,0.95","symbolSize":625,"symbolStrokeWidth":2.2,"symbolOffset":12.5}}},
 "layer":[{"mark":{"type":"errorbar","ticks":false,"clip":true,"thickness":2},"encoding":{"yError":{"field":"e"}}},{"mark":{"type":"line","interpolate":"step","clip":true,"strokeWidth":2.2}}]},
{"width":326.75,"height":324,"title":{"text":"𝑒=[0.1,0.0] using 24 orbits","dx":8},"transform":[{"filter":"datum.p==7"}],
 "encoding":{"x":{"field":"x","type":"quantitative","scale":{"domain":[0,1.3],"nice":false,"zero":false},"axis":{"values":[0,0.25,0.5,0.75,1,1.25],"title":"Orbital Phase (𝜙)","format":".2f"}},
  "y":{"field":"y","type":"quantitative","scale":{"domain":[0,3.5],"nice":false},"axis":{"values":[0,0.5,1,1.5,2,2.5,3,3.5],"labels":false,"title":null}},
  "color":{"field":"s","type":"nominal","scale":{"domain":["Primary","Secondary","Total"],"range":["rgba(31,119,180,0.5)","rgba(255,127,14,0.5)","#2ca02c"]},"legend":{"title":null,"orient":"none","legendX":986,"legendY":434,"symbolType":"M-1.8,0L1.8,0M0,-0.95L0,0.95","symbolSize":625,"symbolStrokeWidth":2.2,"symbolOffset":12.5}}},
 "layer":[{"mark":{"type":"errorbar","ticks":false,"clip":true,"thickness":2},"encoding":{"yError":{"field":"e"}}},{"mark":{"type":"line","interpolate":"step","clip":true,"strokeWidth":2.2}}]}
],
"spacing":0,"bounds":"flush",
"resolve":{"scale":{"color":"shared"},"legend":{"color":"shared"}},
"config":{
 "font":"DejaVu Sans",
 "view":{"stroke":"black","strokeWidth":1.1},
 "axis":{"domain":false,"grid":false,"tickColor":"black","tickWidth":1.1,"labelColor":"black","labelFont":"DejaVu Sans","labelFontSize":17,"titleFont":"DejaVu Sans","titleFontSize":22.5,"titleFontWeight":"normal","titleColor":"black","labelFlush":false,"labelOverlap":false,"labelBound":false},
 "axisX":{"tickSize":-6,"labelPadding":12,"titlePadding":5},
 "axisY":{"tickSize":5,"labelPadding":7,"titlePadding":4},
 "title":{"fontSize":21.5,"fontWeight":"normal","font":"DejaVu Sans","color":"black","offset":-28,"baseline":"alphabetic","anchor":"middle","frame":"group"},
 "legend":{"labelFontSize":21,"labelFont":"DejaVu Sans","labelColor":"black","strokeColor":"#cccccc","fillColor":"white","cornerRadius":4,"padding":6,"rowPadding":-4,"labelOffset":23}
}
}
